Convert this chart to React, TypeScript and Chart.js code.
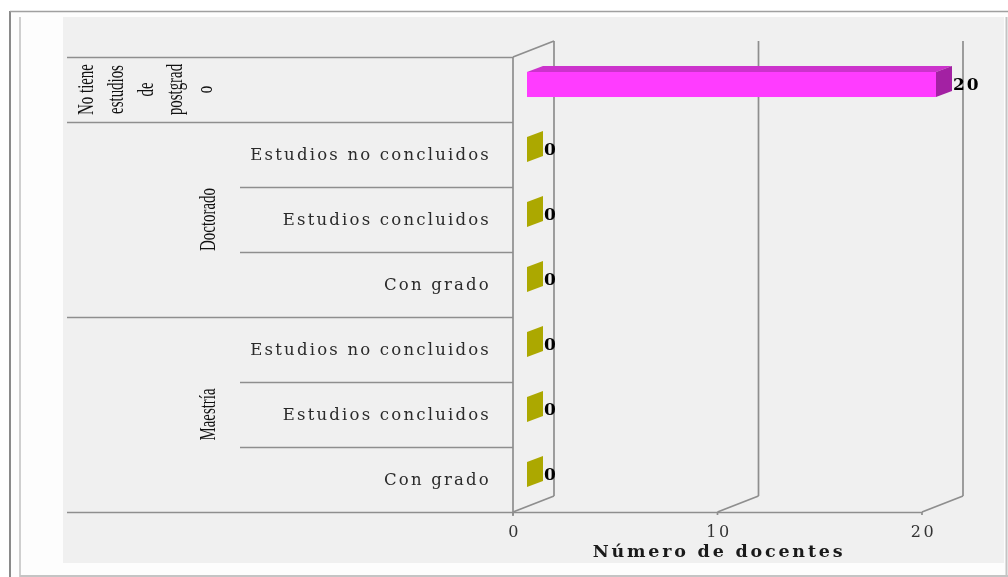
import React, { useEffect, useRef } from 'react';
import { Chart, registerables } from 'chart.js';

Chart.register(...registerables);

// ---- data ----
const groups = ['No tiene estudios de postgrado', 'Doctorado', 'Doctorado', 'Doctorado', 'Maestría', 'Maestría', 'Maestría'];
const subCategories = ['', 'Estudios no concluidos', 'Estudios concluidos', 'Con grado', 'Estudios no concluidos', 'Estudios concluidos', 'Con grado'];
const values = [20, 0, 0, 0, 0, 0, 0];
const xTicks = [0, 10, 20];
const axisTitle = 'Número de docentes';
const wrappedGroupLines: Record<string, string[]> = {
  'No tiene estudios de postgrado': ['No tiene', 'estudios', 'de', 'postgrad', 'o'],
};
const faceFront = ['#ff3cff', '#d6d000', '#d6d000', '#d6d000', '#d6d000', '#d6d000', '#d6d000'];
const faceTop = ['#cc33cc', '#c2bc00', '#c2bc00', '#c2bc00', '#c2bc00', '#c2bc00', '#c2bc00'];
const faceSide = ['#a321a3', '#aca800', '#aca800', '#aca800', '#aca800', '#aca800', '#aca800'];

// ---- geometry / style constants ----
const DEPTH_X = 41;
const DEPTH_Y = -16;
const BAR_OX = 14;
const BAR_OY = -5;
const BAR_DX = 16;
const BAR_DY = -6;
const LINE = '#8e8e8e';

const serif = '"DejaVu Serif", serif';
const narrowSerif = '"Liberation Serif", serif';

const poly = (ctx: CanvasRenderingContext2D, pts: number[][], color: string) => {
  ctx.beginPath();
  ctx.moveTo(pts[0][0], pts[0][1]);
  for (let i = 1; i < pts.length; i++) ctx.lineTo(pts[i][0], pts[i][1]);
  ctx.closePath();
  ctx.fillStyle = color;
  ctx.fill();
};

const line = (ctx: CanvasRenderingContext2D, x1: number, y1: number, x2: number, y2: number) => {
  ctx.beginPath();
  ctx.moveTo(x1, y1);
  ctx.lineTo(x2, y2);
  ctx.stroke();
};

const chart3d = {
  id: 'chart3d',
  beforeDraw(chart: any) {
    const ctx: CanvasRenderingContext2D = chart.ctx;
    const W = chart.width;
    const H = chart.height;
    ctx.save();
    ctx.fillStyle = '#ffffff';
    ctx.fillRect(0, 0, W, H);
    ctx.fillStyle = '#fdfdfd';
    ctx.fillRect(11, 12, W - 11, H - 12);
    ctx.fillStyle = '#f0f0f0';
    ctx.fillRect(63, 17, 941, 546);
    ctx.lineWidth = 2;
    ctx.strokeStyle = '#8a8a8a';
    line(ctx, 10, 11, 10, H);
    ctx.lineWidth = 1.5;
    ctx.strokeStyle = '#a0a0a0';
    line(ctx, 10, 11.5, W, 11.5);
    ctx.lineWidth = 2;
    ctx.strokeStyle = '#cfcfcf';
    line(ctx, 20, 17, 20, H);
    ctx.strokeStyle = '#c4c4c4';
    line(ctx, 20, 576, W, 576);
    line(ctx, 1006.5, 17, 1006.5, H);
    ctx.restore();
  },
  beforeDatasetsDraw(chart: any) {
    const ctx: CanvasRenderingContext2D = chart.ctx;
    const xs = chart.scales.x;
    const ys = chart.scales.y;
    const n = subCategories.length;
    const band = ys.getPixelForValue(1) - ys.getPixelForValue(0);
    const top = ys.getPixelForValue(0) - band / 2;
    const bottom = ys.getPixelForValue(n - 1) + band / 2;
    const x0 = xs.getPixelForValue(0);
    const xEnd = xs.getPixelForValue(xTicks[xTicks.length - 1]);
    ctx.save();
    ctx.strokeStyle = LINE;
    ctx.lineWidth = 1.7;
    // category separators
    for (let i = 0; i <= n; i++) {
      const y = i < n ? ys.getPixelForValue(i) - band / 2 : bottom;
      const isGroup = i === 0 || i === n || groups[i] !== groups[i - 1];
      const startX = isGroup ? 67 : 240;
      line(ctx, startX, Math.round(y) + 0.5, i === n ? xEnd : x0, Math.round(y) + 0.5);
    }
    // left wall
    line(ctx, x0, top, x0, bottom + 4);
    line(ctx, x0, top, x0 + DEPTH_X, top + DEPTH_Y);
    // floor diagonals & back wall verticals
    xTicks.forEach((t) => {
      const xt = xs.getPixelForValue(t);
      line(ctx, xt, bottom, xt + DEPTH_X, bottom + DEPTH_Y);
      line(ctx, xt + DEPTH_X, bottom + DEPTH_Y, xt + DEPTH_X, top + DEPTH_Y);
      line(ctx, xt, bottom, xt, bottom + 3);
    });
    ctx.restore();
  },
  afterDatasetsDraw(chart: any) {
    const ctx: CanvasRenderingContext2D = chart.ctx;
    const xs = chart.scales.x;
    const ys = chart.scales.y;
    const n = subCategories.length;
    const meta = chart.getDatasetMeta(0);
    ctx.save();
    // 3D bars
    meta.data.forEach((el: any, i: number) => {
      const { x, y, base, height } = el.getProps(['x', 'y', 'base', 'height'], true);
      const fx0 = Math.min(base, x) + BAR_OX;
      const fx1 = Math.max(base, x) + BAR_OX;
      const fy0 = y - height / 2 + BAR_OY;
      const fy1 = y + height / 2 + BAR_OY;
      if (fx1 - fx0 > 0.5) {
        poly(ctx, [[fx0, fy0], [fx1, fy0], [fx1 + BAR_DX, fy0 + BAR_DY], [fx0 + BAR_DX, fy0 + BAR_DY]], faceTop[i]);
        ctx.fillStyle = faceFront[i];
        ctx.fillRect(fx0, fy0, fx1 - fx0, fy1 - fy0);
      }
      poly(ctx, [[fx1, fy0], [fx1 + BAR_DX, fy0 + BAR_DY], [fx1 + BAR_DX, fy1 + BAR_DY], [fx1, fy1]], faceSide[i]);
      // value label
      ctx.fillStyle = '#000';
      ctx.font = `bold 17px ${serif}`;
      (ctx as any).letterSpacing = '2px';
      ctx.textAlign = 'left';
      ctx.textBaseline = 'middle';
      ctx.fillText(String(values[i]), fx1 + BAR_DX + 1, y + BAR_OY + 1);
    });

    // sub-category labels
    ctx.font = `16.5px ${serif}`;
    (ctx as any).letterSpacing = '2.2px';
    ctx.fillStyle = '#2a2a2a';
    ctx.textAlign = 'right';
    ctx.textBaseline = 'middle';
    subCategories.forEach((s, i) => {
      if (s) ctx.fillText(s, 491, ys.getPixelForValue(i) + 1);
    });

    // group labels (rotated, condensed)
    (ctx as any).letterSpacing = '0px';
    ctx.fillStyle = '#111';
    let start = 0;
    for (let i = 1; i <= n; i++) {
      if (i === n || groups[i] !== groups[start]) {
        const g = groups[start];
        const yc = (ys.getPixelForValue(start) + ys.getPixelForValue(i - 1)) / 2;
        const lines = wrappedGroupLines[g] || [g];
        lines.forEach((txt, k) => {
          const baseX = lines.length > 1 ? 93 + k * 29.8 : 215;
          ctx.save();
          ctx.translate(baseX, yc);
          ctx.rotate(-Math.PI / 2);
          ctx.scale(0.62, 1);
          ctx.font = `24px ${narrowSerif}`;
          ctx.textAlign = 'center';
          ctx.textBaseline = 'alphabetic';
          ctx.fillText(txt, 0, 0);
          ctx.restore();
        });
        start = i;
      }
    }

    // x tick labels
    ctx.font = `16px ${serif}`;
    (ctx as any).letterSpacing = '2.5px';
    ctx.fillStyle = '#333';
    ctx.textAlign = 'center';
    ctx.textBaseline = 'middle';
    xTicks.forEach((t) => {
      ctx.fillText(String(t), xs.getPixelForValue(t) + 1.5, 533);
    });

    // axis title
    ctx.font = `bold 17.5px ${serif}`;
    (ctx as any).letterSpacing = '2.8px';
    ctx.fillStyle = '#1a1a1a';
    const xm = (xs.getPixelForValue(xTicks[0]) + xs.getPixelForValue(xTicks[xTicks.length - 1])) / 2;
    ctx.fillText(axisTitle, xm + 1.5, 552);
    ctx.restore();
  },
};

export default function App() {
  const ref = useRef<HTMLCanvasElement>(null);
  useEffect(() => {
    document.body.style.margin = '0';
    const canvas = ref.current;
    if (!canvas) return;
    const chart = new Chart(canvas, {
      type: 'bar',
      data: {
        labels: subCategories.map((s, i) => (s ? `${groups[i]} - ${s}` : groups[i])),
        datasets: [
          {
            data: values,
            backgroundColor: 'rgba(0,0,0,0)',
            borderWidth: 0,
            barPercentage: 0.385,
            categoryPercentage: 1,
          },
        ],
      },
      options: {
        indexAxis: 'y',
        animation: false,
        responsive: false,
        maintainAspectRatio: false,
        layout: { padding: { left: 513, right: 86, top: 57, bottom: 65 } },
        scales: {
          x: { type: 'linear', min: 0, max: 20, display: false },
          y: { type: 'category', offset: true, display: false },
        },
        plugins: { legend: { display: false }, tooltip: { enabled: false } },
      },
      plugins: [chart3d],
    });
    return () => chart.destroy();
  }, []);
  return <canvas ref={ref} width={1008} height={577} style={{ display: 'block' }} />;
}
